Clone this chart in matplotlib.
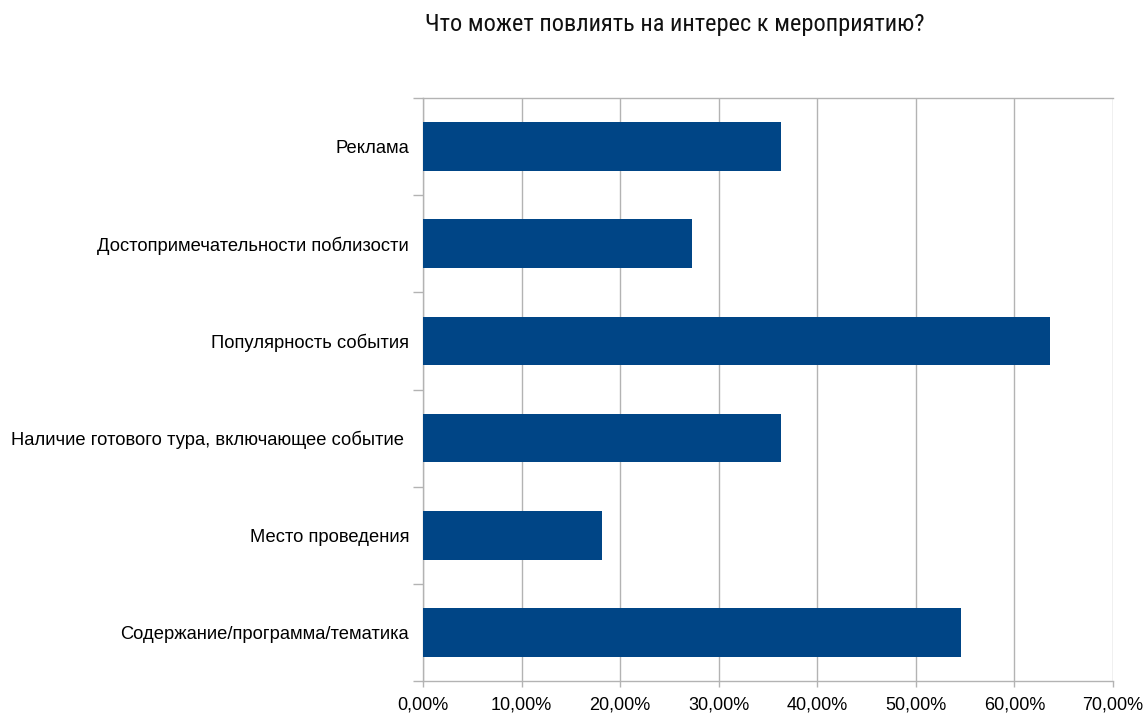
import matplotlib
matplotlib.use('Agg')
import matplotlib.pyplot as plt
from matplotlib import font_manager as fm
from matplotlib.ticker import FuncFormatter, FixedLocator

plt.rcParams['font.family'] = ['Liberation Sans', 'DejaVu Sans']

title = 'Что может повлиять на интерес к мероприятию?'
categories = [
    'Реклама',
    'Достопримечательности поблизости',
    'Популярность события',
    'Наличие готового тура, включающее событие ',
    'Место проведения',
    'Содержание/программа/тематика',
]
shares = [36.36, 27.27, 63.64, 36.36, 18.18, 54.55]  # percent of respondents

bar_color = '#004586'
grid_color = '#b3b3b3'


def narrow_title_font():
    # prefer a condensed face for the heading, fall back to the regular one
    fonts = fm.fontManager.ttflist
    names = {f.name for f in fonts}
    for name in ['Liberation Sans Narrow', 'Roboto Condensed', 'Open Sans Condensed',
                 'DejaVu Sans Condensed', 'Noto Sans Condensed']:
        if name in names:
            return dict(family=[name, 'DejaVu Sans'])
    for f in fonts:
        if f.name in ('Roboto', 'Noto Sans', 'DejaVu Sans', 'Open Sans') and \
                str(f.stretch) in ('condensed', 'semi-condensed', '75', '87.5'):
            return dict(family=[f.name, 'DejaVu Sans'], fontstretch=f.stretch)
    return dict(family=['Liberation Sans', 'DejaVu Sans'])


fig = plt.figure(figsize=(11.45, 7.14), dpi=100)
ax = fig.add_axes([0.3694, 0.0462, 0.6027, 0.8165])

pos = list(range(len(categories)))
ax.barh(pos, [s / 100 for s in shares], height=0.5, color=bar_color, zorder=3)

ax.set_xlim(0, 0.7)
ax.set_ylim(len(categories) - 0.5, -0.5)
ax.xaxis.set_major_locator(FixedLocator([i / 10 for i in range(8)]))
ax.xaxis.set_major_formatter(FuncFormatter(lambda v, _: f'{v * 100:.2f}%'.replace('.', ',')))
ax.grid(axis='x', color=grid_color, linewidth=1, zorder=0)

ax.set_yticks(pos)
ax.set_yticklabels(categories)
ax.yaxis.set_minor_locator(FixedLocator([p + 0.5 for p in range(-1, len(categories))]))
ax.tick_params(axis='y', which='major', length=0, pad=10, labelsize=13.2, labelcolor='#000000')
ax.tick_params(axis='y', which='minor', length=7, width=1, color=grid_color, direction='out')
ax.tick_params(axis='x', which='major', length=4, width=1, color=grid_color, pad=7,
               labelsize=13, labelcolor='#000000')

for side in ['left', 'bottom', 'top', 'right']:
    ax.spines[side].set_color(grid_color)
    ax.spines[side].set_linewidth(1)
ax.spines['right'].set_visible(False)

fig.text(0.5895, 0.966, title, ha='center', va='center', fontsize=17.6,
         color='#111111', **narrow_title_font())

fig.savefig('out.png', dpi=100, facecolor='white')
